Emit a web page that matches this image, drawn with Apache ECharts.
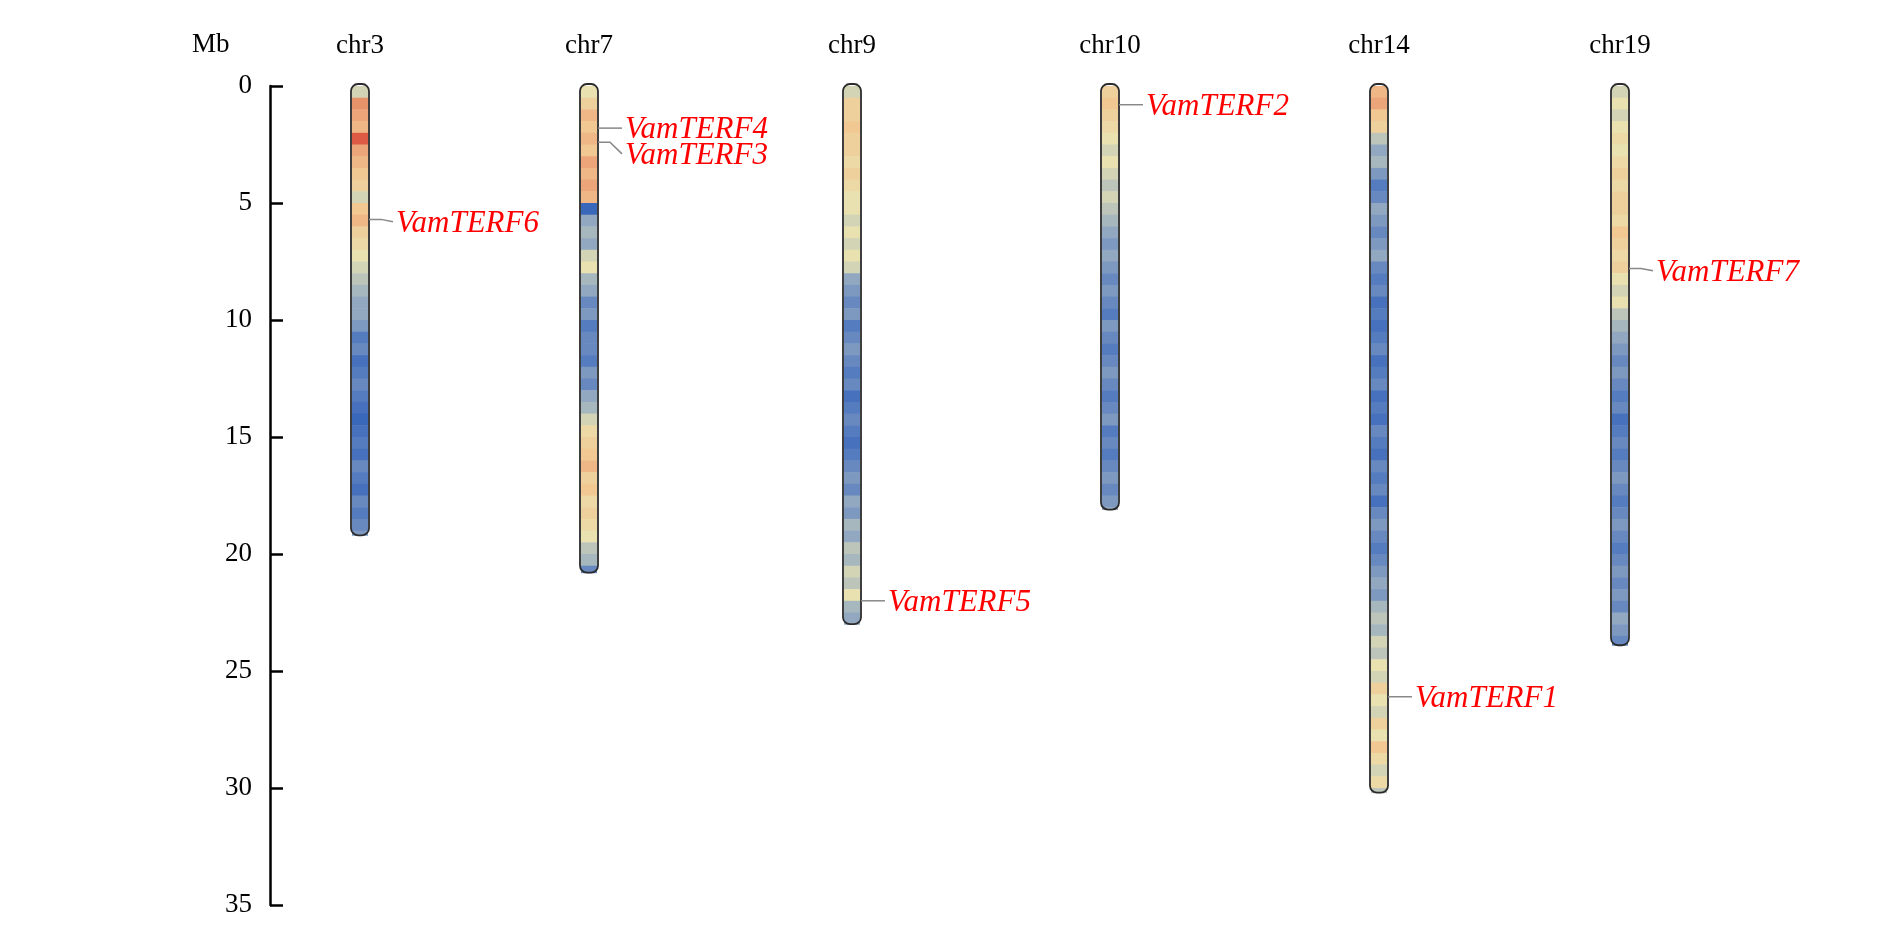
<!DOCTYPE html>
<html><head><meta charset="utf-8">
<script src="https://cdn.jsdelivr.net/npm/echarts@6/dist/echarts.min.js"></script>
<style>html,body{margin:0;background:#fff}#c{width:1890px;height:945px}</style>
</head><body><div id="c"></div>
<script>
var dom = document.getElementById("c");
var myChart = echarts.init(dom);

var chrNames = ['chr3', 'chr7', 'chr9', 'chr10', 'chr14', 'chr19'];
var chrLengths = [19.2, 20.8, 23.0, 18.1, 30.2, 23.9];
var chrX = [90, 319, 582, 840, 1109, 1350]; // layout: horizontal slot of each chromosome
var binSize = 0.5;

// gene density per 0.5 Mb bin (0 = low, 1 = high)
var density = {
    chr3: [0.45,0.8,0.75,0.7,0.9,0.75,0.7,0.65,0.6,0.45,0.65,0.7,0.6,0.55,0.5,0.45,0.4,0.35,0.3,0.3,0.25,0.15,0.2,0.1,0.15,0.2,0.15,0.1,0.05,0.1,0.15,0.1,0.2,0.15,0.1,0.2,0.15,0.2,0.25],
    chr7: [0.5,0.6,0.7,0.65,0.7,0.65,0.75,0.7,0.75,0.7,0.05,0.3,0.35,0.3,0.45,0.5,0.35,0.3,0.2,0.25,0.15,0.2,0.2,0.15,0.25,0.2,0.3,0.35,0.45,0.55,0.6,0.65,0.7,0.6,0.65,0.55,0.6,0.55,0.5,0.4,0.35,0.2],
    chr9: [0.45,0.6,0.6,0.65,0.6,0.6,0.55,0.6,0.55,0.5,0.5,0.45,0.5,0.45,0.5,0.45,0.3,0.25,0.2,0.25,0.15,0.2,0.25,0.2,0.15,0.2,0.1,0.15,0.2,0.15,0.1,0.15,0.2,0.25,0.2,0.3,0.25,0.35,0.3,0.4,0.35,0.45,0.4,0.5,0.35,0.3],
    chr10: [0.6,0.65,0.6,0.55,0.5,0.45,0.5,0.45,0.4,0.45,0.4,0.35,0.3,0.25,0.3,0.25,0.2,0.25,0.2,0.15,0.25,0.2,0.15,0.2,0.25,0.2,0.15,0.2,0.25,0.15,0.2,0.15,0.2,0.25,0.2,0.25,0.3],
    chr14: [0.7,0.75,0.65,0.6,0.4,0.3,0.35,0.25,0.15,0.2,0.3,0.25,0.2,0.25,0.3,0.2,0.15,0.2,0.1,0.15,0.1,0.15,0.2,0.1,0.15,0.2,0.1,0.15,0.1,0.2,0.15,0.1,0.2,0.15,0.2,0.1,0.2,0.25,0.2,0.15,0.2,0.25,0.3,0.25,0.35,0.4,0.35,0.45,0.4,0.5,0.45,0.6,0.5,0.45,0.6,0.5,0.65,0.55,0.45,0.55,0.4],
    chr19: [0.45,0.5,0.45,0.5,0.55,0.5,0.55,0.6,0.55,0.6,0.6,0.55,0.65,0.6,0.55,0.6,0.5,0.45,0.5,0.4,0.35,0.3,0.25,0.2,0.25,0.2,0.15,0.2,0.1,0.15,0.2,0.15,0.2,0.25,0.2,0.15,0.2,0.25,0.2,0.15,0.2,0.25,0.2,0.25,0.2,0.3,0.25,0.2]
};

var geneNames = ['VamTERF6', 'VamTERF4', 'VamTERF3', 'VamTERF2', 'VamTERF5', 'VamTERF1', 'VamTERF7'];
var geneChr = ['chr3', 'chr7', 'chr7', 'chr10', 'chr9', 'chr14', 'chr19'];
var genePos = [5.7, 1.8, 2.4, 0.8, 22.0, 26.1, 7.8];
var geneLabelPos = [5.8, 1.8, 2.9, 0.8, 22.0, 26.1, 7.9];

// build band data
var bandData = [];
chrNames.forEach(function (name, i) {
    density[name].forEach(function (v, j) {
        var s = j * binSize;
        var e = Math.min((j + 1) * binSize, chrLengths[i]);
        bandData.push([chrX[i], s, e, v]);
    });
});
var chrData = chrNames.map(function (name, i) {
    return [chrX[i], 0, chrLengths[i], name];
});
var geneData = geneNames.map(function (g, k) {
    return [chrX[chrNames.indexOf(geneChr[k])], genePos[k], geneLabelPos[k], g];
});

var halfW = 9;

option = {
    animation: false,
    grid: { left: 270, right: 0, top: 86, bottom: 40 },
    xAxis: { type: 'value', min: 0, max: 1620, show: false },
    yAxis: {
        type: 'value', inverse: true, min: 0, max: 35, interval: 5,
        axisLine: { show: true, lineStyle: { color: '#000', width: 2.5 } },
        axisTick: { show: true, inside: true, length: 13, lineStyle: { color: '#000', width: 2.5 } },
        axisLabel: { color: '#000', fontSize: 27, fontFamily: 'Liberation Serif', margin: 18 },
        splitLine: { show: false }
    },
    visualMap: {
        show: false, seriesIndex: 0, dimension: 3, min: 0, max: 1,
        inRange: { color: ['#2b5cb8', '#5a7fbf', '#a0b2c0', '#e9e2b0', '#f2c48f', '#e58560', '#d7191c'] }
    },
    series: [{
        type: 'custom',
        data: bandData,
        encode: { x: 0, y: [1, 2] },
        renderItem: function (params, api) {
            var p1 = api.coord([api.value(0), api.value(1)]);
            var p2 = api.coord([api.value(0), api.value(2)]);
            return {
                type: 'rect',
                shape: { x: p1[0] - halfW + 1, y: p1[1], width: 2 * halfW - 2, height: p2[1] - p1[1] + 0.5 },
                style: { fill: api.visual('color') }
            };
        }
    }, {
        type: 'custom',
        data: chrData,
        encode: { x: 0, y: [1, 2] },
        clip: false,
        renderItem: function (params, api) {
            var p1 = api.coord([api.value(0), api.value(1)]);
            var p2 = api.coord([api.value(0), api.value(2)]);
            return {
                type: 'group',
                children: [{
                    type: 'rect',
                    shape: { x: p1[0] - halfW, y: p1[1] - 2, width: 2 * halfW, height: p2[1] - p1[1] + 2, r: 7 },
                    style: { fill: null, stroke: '#2a2a2a', lineWidth: 1.8 }
                }, {
                    type: 'text',
                    style: {
                        text: chrNames[params.dataIndex], x: p1[0], y: 46,
                        align: 'center', verticalAlign: 'middle',
                        font: '27px "Liberation Serif"', fill: '#000'
                    }
                }]
            };
        }
    }, {
        type: 'custom',
        data: geneData,
        encode: { x: 0, y: 1 },
        clip: false,
        renderItem: function (params, api) {
            var p = api.coord([api.value(0), api.value(1)]);
            var q = api.coord([api.value(0), api.value(2)]);
            var x0 = p[0] + halfW;
            return {
                type: 'group',
                children: [{
                    type: 'polyline',
                    shape: { points: [[x0, p[1]], [x0 + 12, p[1]], [x0 + 24, q[1]]] },
                    style: { stroke: '#888', lineWidth: 1.5, fill: null }
                }, {
                    type: 'text',
                    style: {
                        text: geneNames[params.dataIndex], x: x0 + 27, y: q[1] + 2,
                        align: 'left', verticalAlign: 'middle',
                        font: 'italic 31px "Liberation Serif"', fill: '#ff0000'
                    }
                }]
            };
        }
    }],
    graphic: [{
        type: 'text', left: 192, top: 31,
        style: { text: 'Mb', font: '27px "Liberation Serif"', fill: '#000' }
    }]
};
myChart.setOption(option, true);
</script></body></html>
